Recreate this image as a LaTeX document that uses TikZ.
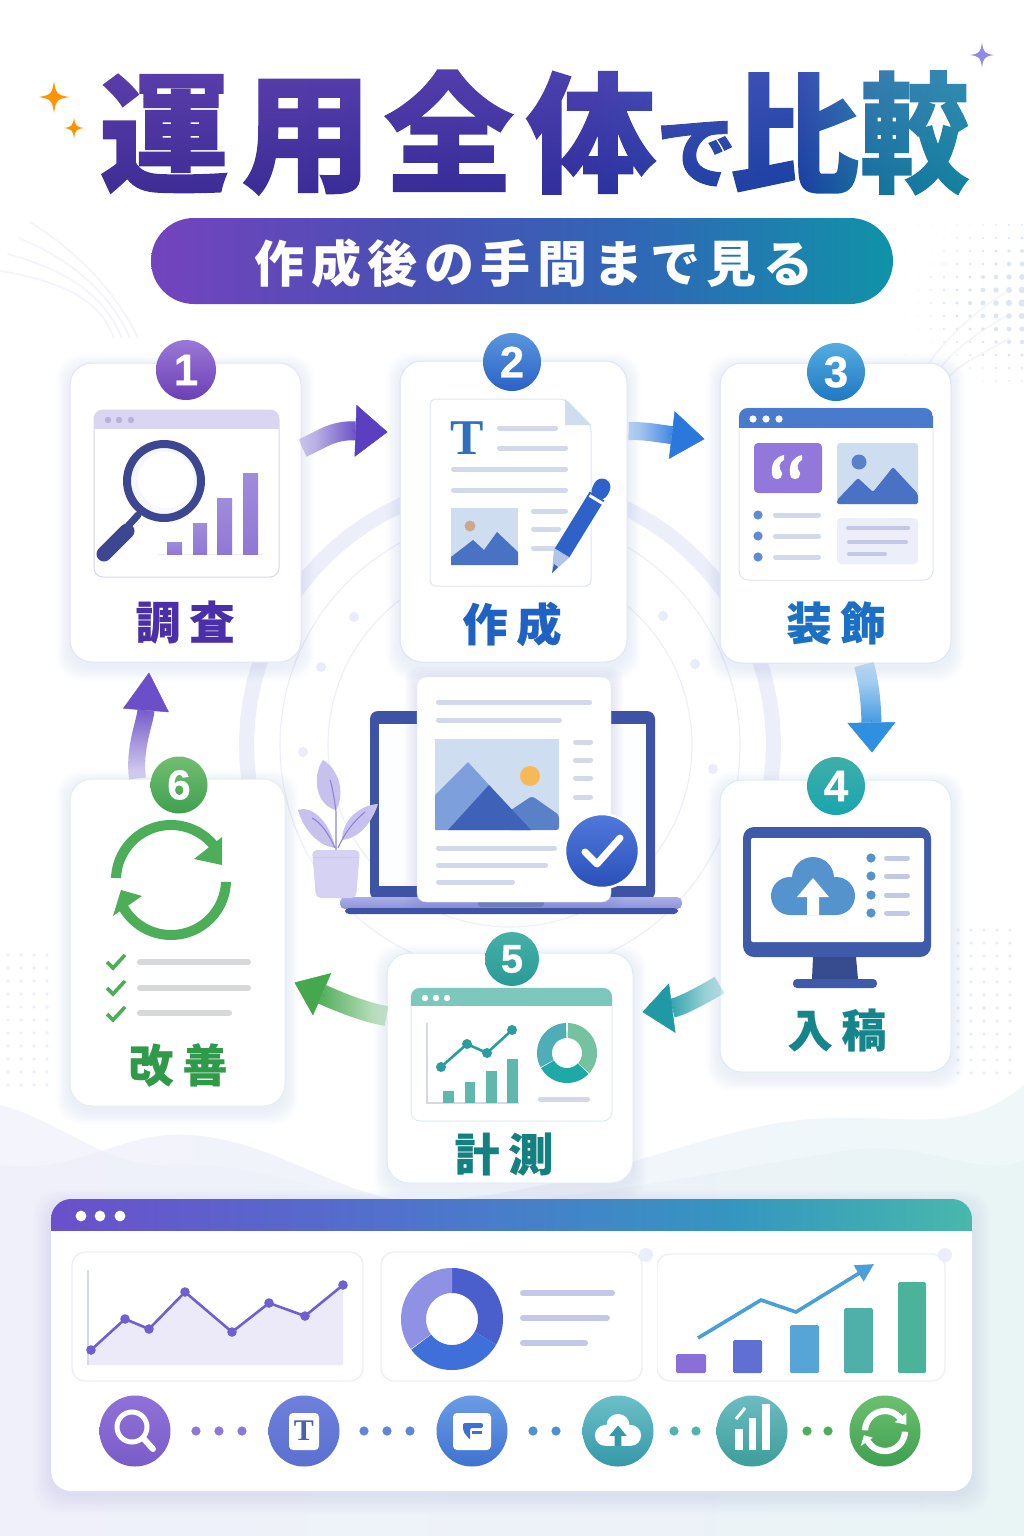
\documentclass[tikz,border=0pt]{standalone}
\usepackage{fontspec}
\usetikzlibrary{calc,arrows.meta,fadings}
\newfontfamily\jpfont{Noto Sans CJK JP}
\newfontfamily\jplabel[BoldFeatures={FakeBold=.5}]{Noto Sans CJK JP}
\newfontfamily\jpheavy[BoldFeatures={FakeBold=1.1}]{Noto Sans CJK JP}
\newfontfamily\numfont[BoldFeatures={FakeBold=.6}]{Liberation Sans}
\newfontfamily\serifT{Liberation Serif}

\definecolor{shadowtint}{HTML}{4A55B0}
\definecolor{ringc}{HTML}{ECEFFA}
\definecolor{faintc}{HTML}{F3F4FC}
\definecolor{linec}{HTML}{D3D8EA}
\definecolor{linedeep}{HTML}{C3C8E6}
\definecolor{graybar}{HTML}{D7D8DC}
\definecolor{skyc}{HTML}{CFDDF0}
\definecolor{navy}{HTML}{3D4690}
\definecolor{monitorc}{HTML}{3F5AA8}
\definecolor{laptopc}{HTML}{3F53A5}
\definecolor{leafc}{HTML}{C7C1EE}
\definecolor{veinc}{HTML}{8D84D8}
\definecolor{potc}{HTML}{D6D2F4}
\definecolor{greenc}{HTML}{4DAE5A}
\definecolor{tealc}{HTML}{2A9D9E}
\definecolor{mountc}{HTML}{4A72C4}
\definecolor{mlight}{HTML}{7D9FDC}
\definecolor{mmid}{HTML}{5A80C8}
\definecolor{mdark}{HTML}{3F62B8}
\definecolor{tblue}{HTML}{2F6FBE}
\definecolor{penc}{HTML}{2E62C8}
\definecolor{cloudc}{HTML}{5593CE}
\definecolor{barB}{HTML}{8F78D5}
\definecolor{winlav}{HTML}{DAD5F0}
\definecolor{winlavdot}{HTML}{B9B0E0}
\definecolor{winblue}{HTML}{4A7ACC}
\definecolor{winteal}{HTML}{7CC8BC}
\definecolor{quotec}{HTML}{9378DC}
\definecolor{bullet}{HTML}{5F8CD8}
\definecolor{tealbar}{HTML}{5FB8AC}
\definecolor{doughA}{HTML}{74C2A0}
\definecolor{doughB}{HTML}{1FA9A6}
\definecolor{doughC}{HTML}{4FADB8}
\definecolor{doughD}{HTML}{4A5ECC}
\definecolor{doughE}{HTML}{3F6FD8}
\definecolor{doughF}{HTML}{8F92E4}
\definecolor{areac}{HTML}{ECEAF9}
\definecolor{plotc}{HTML}{6F5FD0}

\definecolor{titleA}{HTML}{3E2B94}
\definecolor{titleB}{HTML}{352B96}
\definecolor{titleC}{HTML}{2C2F9C}
\definecolor{titleD}{HTML}{1F3FA2}
\definecolor{titleE}{HTML}{173FA0}
\definecolor{titleF}{HTML}{13709C}
\definecolor{titleG}{HTML}{10829E}
\definecolor{titletop}{HTML}{2A1838}
\pgfdeclarehorizontalshading{titlebase}{100bp}{
  color(0bp)=(titleA); color(25bp)=(titleA); color(45bp)=(titleB);
  color(53bp)=(titleC); color(59bp)=(titleD); color(65bp)=(titleE);
  color(69bp)=(titleF); color(75bp)=(titleG); color(100bp)=(titleG)}
\definecolor{pillA}{HTML}{7443BE}
\definecolor{pillB}{HTML}{4A4FB4}
\definecolor{pillC}{HTML}{2F68B6}
\definecolor{pillD}{HTML}{0F93A8}
\pgfdeclarehorizontalshading{pillshade}{100bp}{
  color(0bp)=(pillA); color(25bp)=(pillA); color(42bp)=(pillB);
  color(58bp)=(pillC); color(75bp)=(pillD); color(100bp)=(pillD)}
\definecolor{dashA}{HTML}{6A50CC}
\definecolor{dashB}{HTML}{4F74CC}
\definecolor{dashC}{HTML}{3596C0}
\definecolor{dashD}{HTML}{48B8AC}
\pgfdeclarehorizontalshading{dashshade}{100bp}{
  color(0bp)=(dashA); color(25bp)=(dashA); color(45bp)=(dashB);
  color(62bp)=(dashC); color(75bp)=(dashD); color(100bp)=(dashD)}

\tikzfading[name=tailfade,left color=transparent!85,middle color=transparent!0,right color=transparent!0]

\tikzset{
  cardbox/.style={rounded corners=22pt,fill=white,line width=1pt,inner sep=0pt},
  badge/.style={circle,inner sep=0pt,text=white,font=\numfont\bfseries\fontsize{44}{44}\selectfont},
  steplabel/.style={inner sep=0pt,font=\jplabel\bfseries\fontsize{45}{45}\selectfont\addfontfeature{LetterSpace=20}},
  plainwin/.style={fill=white,rounded corners=9pt,line width=1pt},
  subpanel/.style={draw=ringc,fill=white,line width=1.4pt,rounded corners=13pt},
  roundicon/.style={circle,minimum size=71pt,inner sep=0pt},
}

\newcommand{\rulebar}[5]{\draw[line width=#4pt,line cap=round,color=#5] ({#1+#4/2},#3) -- ({#2-#4/2},#3);}
% ring sector with mathematical angles, seen on a y-down canvas
\newcommand{\arcband}[7]{\fill[#7] plot[domain=#5:#6,samples=48] ({#1+#3*cos(\x)},{#2-#3*sin(\x)}) -- plot[domain=#6:#5,samples=48] ({#1+#4*cos(\x)},{#2-#4*sin(\x)}) -- cycle;}
% four pointed star
\newcommand{\sparkle}[4]{\fill[#4] (#1,#2-#3) .. controls (#1+#3*.12,#2-#3*.2) and (#1+#3*.2,#2-#3*.12) .. (#1+#3*.95,#2) .. controls (#1+#3*.2,#2+#3*.12) and (#1+#3*.12,#2+#3*.2) .. (#1,#2+#3) .. controls (#1-#3*.12,#2+#3*.2) and (#1-#3*.2,#2+#3*.12) .. (#1-#3*.95,#2) .. controls (#1-#3*.2,#2-#3*.12) and (#1-#3*.12,#2-#3*.2) .. cycle;}
% card with soft shadow
\newcommand{\softcard}[6]{%
  \foreach \g in {1,...,8}{\fill[shadowtint,opacity=.010,rounded corners=24pt] ({#2-\g*1.7},{#3-\g*1.7+5}) rectangle ({#4+\g*1.7},{#5+\g*1.7+5});}
  \node[cardbox,draw=#6,minimum width={(#4-#2)*1pt},minimum height={(#5-#3)*1pt}] (#1) at ({(#2+#4)/2},{(#3+#5)/2}) {};}
% title strip of a rounded window
\newcommand{\winbar}[7]{\begin{scope}\clip[rounded corners=#6pt] (#1,#2) rectangle (#3,#5);\fill[#7] (#1,#2) rectangle (#3,#4);\end{scope}}
% broad curved arrow whose tail fades out: from, ctrl, ctrl, tip, width, head length, head width, colour, fade angle
\newcommand{\fatarrow}[9]{%
  \draw[path fading=tailfade,fading angle=#9,color=#8,line width=#5pt] (#1) .. controls (#2) and (#3) .. ($(#4)!#6pt!(#3)$);
  \draw[color=#8,line width=.5pt,-{Triangle[length=#6pt,width=#7pt]}] ($(#4)!#6pt+3pt!(#3)$) -- (#4);}
% cloud with an upward arrow, local size about 84 wide
\newcommand{\cloudicon}[5]{\begin{scope}[shift={(#1,#2)},scale=#3]
  \fill[#4] (0,-10) circle[radius=21pt] (-23,8) circle[radius=19pt] (23,8) circle[radius=19pt] (-23,8) rectangle (23,27);
  \fill[#5] (0,-10) -- (16,9) -- (6,9) -- (6,27) -- (-6,27) -- (-6,9) -- (-16,9) -- cycle;
\end{scope}}
% pair of circular arrows, local radius 55
\newcommand{\syncicon}[5]{\begin{scope}[shift={(#1,#2)},scale=#3]
  \arcband{0}{0}{#4}{#5}{178}{33}{SYNCCOL}
  \arcband{0}{0}{#4}{#5}{-2}{-150}{SYNCCOL}
  \fill[SYNCCOL] (51,-43) -- (51,-15) -- (23,-21) -- cycle;
  \fill[SYNCCOL] (-58,36) -- (-50,10) -- (-29,16) -- cycle;
\end{scope}}
\newcommand{\quotemark}[2]{\fill[white] (#1,#2+6) circle[radius=5.2pt];
  \fill[white] (#1-5,#2+5) .. controls (#1-6,#2-6) and (#1-1,#2-11) .. (#1+7,#2-13) -- (#1+7,#2-8) .. controls (#1+2,#2-6) and (#1+1,#2) .. (#1+5,#2+5) -- cycle;}

\begin{document}
\begin{tikzpicture}[x=1pt,y=-1pt]
\useasboundingbox (0,0) rectangle (1024,1536);
\fill[white] (0,0) rectangle (1024,1536);

% soft waves along the lower edge
\definecolor{waveL}{HTML}{F4F5FC}\definecolor{waveR}{HTML}{EFF7F9}
\definecolor{deepL}{HTML}{F0EFFB}\definecolor{deepR}{HTML}{E8F4F5}
\shade[left color=waveL,right color=waveR] (0,1105)
  .. controls (60,1120) and (110,1170) .. (170,1165)
  .. controls (260,1160) and (320,1200) .. (420,1200)
  .. controls (560,1200) and (700,1130) .. (800,1120)
  .. controls (900,1110) and (960,1140) .. (1024,1085)
  -- (1024,1536) -- (0,1536) -- cycle;
\shade[left color=deepL,right color=deepR,opacity=.8] (0,1165)
  .. controls (80,1175) and (120,1130) .. (190,1135)
  .. controls (270,1140) and (330,1190) .. (400,1200)
  .. controls (520,1215) and (720,1170) .. (850,1150)
  .. controls (930,1140) and (980,1180) .. (1024,1160)
  -- (1024,1536) -- (0,1536) -- cycle;

% faint sweeping arcs, top left and top right
\foreach \d in {0,16,32,48}{
  \draw[faintc,line width=1.8pt] (30-\d*.7,222+\d) .. controls (75,250+\d*.7) and (115-\d*.3,290+\d*.3) .. (138-\d*.5,338);
}
\foreach \d in {0,24,48}{
  \draw[faintc,line width=1.6pt] (1010,290+\d) .. controls (975,310+\d) and (935,345+\d*.6) .. (905+\d*.8,400);
}
% dotted patches
\foreach \x in {905,918,...,1022}{\foreach \y in {225,238,...,392}{
  \pgfmathsetmacro\rr{max(.5,3.2*(1-abs(\y-300)/110)*(\x-895)/110)}
  \fill[color=skyc!70] (\x,\y) circle[radius=\rr pt];}}
\foreach \x in {8,21,34,47}{\foreach \y in {955,968,...,1090}{
  \fill[color=ringc] (\x,\y) circle[radius=1.9pt];}}
\foreach \x in {958,971,...,1022}{\foreach \y in {930,943,...,1075}{
  \fill[color=skyc!50] (\x,\y) circle[radius=1.8pt];}}

% concentric rings behind the cycle
\arcband{510}{745}{271}{256}{-12}{192}{ringc}
\foreach \r in {230,182}{\draw[ringc,line width=1.1pt] (510,745) circle[radius=\r pt];}
\foreach \px/\py in {354/617,321/667,303/752,663/616,695/664,713/769}{\fill[color=ringc!90!skyc] (\px,\py) circle[radius=5pt];}

% title, painted by screening gradients over black letters
\node[anchor=base west,inner sep=0pt,text=black,font=\jpheavy\bfseries\fontsize{130}{130}\selectfont\addfontfeature{LetterSpace=9.5}] (title) at (99,182) {運用全体{\fontsize{80}{80}\selectfont で}\hspace{-7pt}比\hspace{1pt}\scalebox{.84}[1]{較}};
\begin{scope}[blend mode=screen]
  \shade[shading=titlebase] (92,55) rectangle (978,200);
  \shade[top color=titletop,bottom color=black] (92,55) rectangle (978,200);
\end{scope}
\sparkle{54}{97}{16}{orange!85!yellow}
\sparkle{74}{128}{10.5}{orange!85!yellow}
\definecolor{starv}{HTML}{8F8BE6}
\sparkle{982}{55}{12.5}{starv}

% subtitle pill
\node[shading=pillshade,rounded corners=43pt,minimum width=742pt,minimum height=86pt,inner sep=0pt] (pill) at (522,261) {};
\node[inner sep=0pt,text=white,font=\jpfont\bfseries\fontsize{50}{50}\selectfont\addfontfeature{LetterSpace=13}] (pilltext) at (534,263) {作成後の手間まで見る};

% cards
\definecolor{edgeA}{HTML}{E6E3F6}\definecolor{edgeB}{HTML}{DDE6F6}\definecolor{edgeC}{HTML}{DCEDF0}\definecolor{edgeD}{HTML}{E4EFE6}
\softcard{c1}{70}{363}{301}{662}{edgeA}
\softcard{c2}{400}{361}{627}{662}{edgeB}
\softcard{c3}{720}{363}{951}{663}{edgeB}
\softcard{c4}{720}{780}{951}{1072}{edgeC}
\softcard{c6}{70}{779}{285}{1106}{edgeD}

% cycle arrows
\definecolor{arA}{HTML}{5A3FC0}\definecolor{arB}{HTML}{2A78DC}\definecolor{arC}{HTML}{2F8FE0}
\definecolor{arD}{HTML}{1F9AA5}\definecolor{arE}{HTML}{45A84F}\definecolor{arF}{HTML}{6B4FC8}
\coordinate (a12s) at ($(c1.east)+(1,-64.5)$);
\coordinate (a12t) at ($(c2.west)+(-12,-79.5)$);
\coordinate (a12u) at ($(a12s)+(20,-9)$);
\coordinate (a12v) at ($(a12t)+(-55,-2)$);
\fatarrow{a12s}{a12u}{a12v}{a12t}{19}{32}{52}{arA}{0}
\coordinate (a23s) at ($(c2.east)+(1,-80.5)$);
\coordinate (a23t) at ($(c3.west)+(-15,-74)$);
\coordinate (a23u) at ($(a23s)+(20,0)$);
\coordinate (a23v) at ($(a23t)+(-50,-6)$);
\fatarrow{a23s}{a23u}{a23v}{a23t}{18}{33}{48}{arB}{0}
\coordinate (a34s) at ($(c3.south)+(28.5,1)$);
\coordinate (a34t) at ($(c4.north)+(36.5,-27)$);
\coordinate (a34u) at ($(a34s)+(4,15)$);
\coordinate (a34v) at ($(a34t)+(-1,-55)$);
\fatarrow{a34s}{a34u}{a34v}{a34t}{20}{30}{48}{arC}{-90}
\softcard{c5}{387}{953}{633}{1183}{edgeC}
\coordinate (a45s) at ($(c4.west)+(0,59)$);
\coordinate (a45t) at ($(c5.east)+(9,-56)$);
\coordinate (a45u) at ($(a45s)+(-15,9)$);
\coordinate (a45v) at ($(a45t)+(38,-5)$);
\fatarrow{a45s}{a45u}{a45v}{a45t}{19}{30}{50}{arD}{180}
\coordinate (a56s) at ($(c5.west)+(0,-52)$);
\coordinate (a56t) at ($(c6.east)+(9,40)$);
\coordinate (a56u) at ($(a56s)+(-25,-4)$);
\coordinate (a56v) at ($(a56t)+(35,15)$);
\fatarrow{a56s}{a56u}{a56v}{a56t}{20}{30}{46}{arE}{180}
\coordinate (a61s) at ($(c6.north)+(-40,0)$);
\coordinate (a61t) at ($(c1.south)+(-36.5,10)$);
\coordinate (a61u) at ($(a61s)+(-4,-30)$);
\coordinate (a61v) at ($(a61t)+(-4,50)$);
\fatarrow{a61s}{a61u}{a61v}{a61t}{17}{38}{46}{arF}{90}

% badges
\definecolor{bgA}{HTML}{9B78D8}\definecolor{bhA}{HTML}{6B3FB5}
\definecolor{bgB}{HTML}{5A96DE}\definecolor{bhB}{HTML}{2A62C6}
\definecolor{bgC}{HTML}{55ACE0}\definecolor{bhC}{HTML}{1E78C4}
\definecolor{bgD}{HTML}{3FAFA8}\definecolor{bhD}{HTML}{18A5B0}
\definecolor{bgE}{HTML}{45B0A5}\definecolor{bhE}{HTML}{2A9A98}
\definecolor{bgF}{HTML}{72BE70}\definecolor{bhF}{HTML}{3FA050}
\node[badge,minimum size=60pt,top color=bgA,bottom color=bhA] (b1) at (186,370) {1};
\node[badge,minimum size=58pt,top color=bgB,bottom color=bhB] (b2) at (512,362) {2};
\node[badge,minimum size=58pt,top color=bgC,bottom color=bhC] (b3) at (836,372) {3};
\node[badge,minimum size=58pt,top color=bgD,bottom color=bhD] (b4) at (836,786) {4};
\node[badge,minimum size=54pt,font=\numfont\bfseries\fontsize{40}{40}\selectfont,top color=bgE,bottom color=bhE] (b5) at (512,959) {5};
\node[badge,minimum size=57pt,font=\numfont\bfseries\fontsize{42}{42}\selectfont,top color=bgF,bottom color=bhF] (b6) at (179,785) {6};

% step labels
\definecolor{lbA}{HTML}{4A2FA8}\definecolor{lbB}{HTML}{1F62C4}\definecolor{lbC}{HTML}{1B70C4}
\definecolor{lbD}{HTML}{14858A}\definecolor{lbE}{HTML}{14807F}\definecolor{lbF}{HTML}{2F9A4A}
\node[steplabel,text=lbA] (l1) at (185,622) {調査};
\node[steplabel,text=lbB] (l2) at (512,624) {作成};
\node[steplabel,text=lbC] (l3) at (836,623) {装飾};
\node[steplabel,text=lbD] (l4) at (837,1030) {入稿};
\node[steplabel,text=lbE] (l5) at (504,1154) {計測};
\node[steplabel,text=lbF] (l6) at (178,1065) {改善};

% ---- research icon: browser, magnifier, bars
\draw[plainwin,draw=winlav] (94,410) rectangle (279,577);
\winbar{94}{410}{279}{429}{577}{9}{winlav}
\foreach \px in {108,119,131}{\fill[color=winlavdot] (\px,420) circle[radius=3.2pt];}
\draw[color=ringc,line width=1pt] (157,554) -- (263,554);
\foreach \a/\b/\t in {167/182/542,193/207/523,217/232/498,243/258/473}{
  \shade[top color=barB!85!white,bottom color=barB] (\a,\t) rectangle (\b,554);}
\draw[color=navy,line width=7pt,line cap=round] (138,515) -- (128,526);
\draw[color=navy,line width=15pt,line cap=round] (127,531) -- (104,554);
\fill[color=ringc!50!white] (164,481) circle[radius=37pt];
\fill[white] (166,480) circle[radius=28pt];
\draw[color=navy,line width=8pt] (164,481) circle[radius=37pt];

% ---- writing icon: page, image, pencil
\draw[plainwin,draw=edgeB,rounded corners=6pt] (430,399) -- (565,399) -- (591,425) -- (591,586) -- (430,586) -- cycle;
\fill[color=skyc] (565,399) -- (591,425) -- (565,425) -- cycle;
\node[inner sep=0pt,text=tblue,font=\serifT\bfseries\fontsize{50}{50}\selectfont] (tglyph) at (467,438) {T};
\rulebar{497}{558}{428}{5}{linec}
\rulebar{497}{568}{448}{5}{linec}
\rulebar{451}{568}{469}{5}{linec}
\rulebar{451}{568}{490}{5}{linec}
\fill[color=skyc] (451,508) rectangle (518,565);
\fill[color=orange!35!skyc!90!black] (470,526) circle[radius=5.5pt];
\fill[color=mountc] (451,557) -- (473,540) -- (484,550) -- (497,532) -- (518,552) -- (518,565) -- (451,565) -- cycle;
\rulebar{531}{568}{511}{5}{linec}
\rulebar{531}{561}{529}{5}{linec}
\rulebar{531}{557}{548}{5}{linec}
\draw[color=penc,line width=17pt] (562,553) -- (597,496);
\draw[color=penc,line width=17pt,line cap=round] (600,491) -- (602,487);
\draw[color=white,line width=3pt] (589.5,495.5) -- (604.5,504.5);
\fill[color=mlight!60!white] (554,548) -- (569.5,557.5) -- (552,573) -- cycle;
\fill[color=mdark] (554,564) -- (558,567) -- (552,573) -- cycle;

% ---- layout icon: browser with blocks
\draw[plainwin,draw=edgeB] (739,408) rectangle (933,580);
\winbar{739}{408}{933}{428}{580}{9}{winblue}
\foreach \px in {753,766,779}{\fill[white] (\px,419) circle[radius=3.6pt];}
\fill[color=quotec,rounded corners=4pt] (754,443) rectangle (822,493);
\quotemark{777}{468}
\quotemark{795}{468}
\fill[color=skyc,rounded corners=3pt] (837,443) rectangle (918,504);
\fill[color=mmid] (859,462) circle[radius=7.5pt];
\fill[color=mountc,rounded corners=2pt] (837,500) -- (858,478) -- (873,492) -- (893,467) -- (918,494) -- (918,504) -- (837,504) -- cycle;
\foreach \py in {515,536,557}{\fill[color=bullet] (758,\py) circle[radius=4.6pt];\rulebar{773}{821}{\py}{5}{linec}}
\fill[color=ringc,rounded corners=4pt] (837,518) rectangle (918,564);
\rulebar{846}{910}{528}{4}{linedeep}
\rulebar{847}{908}{542}{4}{linedeep}
\rulebar{847}{887}{554}{4}{linedeep}

% ---- publish icon: monitor with cloud upload
\fill[color=monitorc,rounded corners=11pt] (743,827) rectangle (931,957);
\fill[white,rounded corners=2pt] (751,838) rectangle (924,942);
\fill[color=monitorc!85!black] (813,957) -- (856,957) -- (858,979) -- (812,979) -- cycle;
\fill[color=monitorc,rounded corners=4pt] (793,979) rectangle (877,988);
\cloudicon{813}{888}{1}{cloudc}{white}
\foreach \py in {858,876,895,913}{\fill[color=cloudc] (871,\py) circle[radius=4.6pt];\rulebar{884}{910}{\py}{5}{linedeep}}

% ---- measure icon: browser with charts
\draw[plainwin,draw=edgeC] (411,988) rectangle (612,1121);
\winbar{411}{988}{612}{1006}{1121}{9}{winteal}
\foreach \px in {425,436,447}{\fill[white] (\px,998) circle[radius=3.2pt];}
\draw[color=linec,line width=1.6pt] (427,1023) -- (427,1103) -- (519,1103);
\foreach \a/\b/\t in {443/454/1091,465/475/1082,486/497/1071,507/518/1059}{\fill[color=tealbar] (\a,\t) rectangle (\b,1103);}
\draw[color=tealc,line width=2.6pt] (441,1067) -- (467,1044) -- (487,1053) -- (512,1030);
\foreach \px/\py in {441/1067,467/1044,487/1053,512/1030}{\fill[color=tealc] (\px,\py) circle[radius=5pt];}
\arcband{567}{1053}{30}{15}{88}{-42}{doughA}
\arcband{567}{1053}{30}{15}{-44}{-150}{doughB}
\arcband{567}{1053}{30}{15}{-152}{-268}{doughC}
\rulebar{538}{590}{1099}{5}{linec}

% ---- improve icon: sync arrows and checklist
\colorlet{SYNCCOL}{greenc}
\syncicon{171}{880}{1}{60}{50}
\foreach \py in {962,988,1014}{
  \draw[color=greenc,line width=3.6pt] (107,\py) -- (113,\py+6) -- (125,\py-7);}
\rulebar{137}{251}{962}{6}{graybar}
\rulebar{137}{251}{988}{6}{graybar}
\rulebar{137}{232}{1013}{6}{graybar}

% ---- centre illustration: laptop, plant, page
\fill[color=laptopc,rounded corners=8pt] (370,711) rectangle (655,900);
\fill[color=white!92!ringc] (379,724) rectangle (646,886);
\definecolor{baseA}{HTML}{A9AEE6}\definecolor{baseB}{HTML}{8C93D8}
\shade[top color=baseA,bottom color=baseB,rounded corners=5pt] (340,897) rectangle (682,909);
\fill[color=laptopc,rounded corners=4pt] (345,908) rectangle (678,914);
\fill[color=leafc] (323,760) .. controls (312,775) and (315,805) .. (336,810) .. controls (345,795) and (340,770) .. (323,760) -- cycle;
\fill[color=leafc] (298,810) .. controls (310,805) and (330,820) .. (335,848) .. controls (315,845) and (302,825) .. (298,810) -- cycle;
\fill[color=leafc] (378,804) .. controls (360,805) and (342,820) .. (342,840) .. controls (360,838) and (372,822) .. (378,804) -- cycle;
\draw[color=veinc,line width=1.1pt] (336,850) -- (336,812) .. controls (334,795) and (331,782) .. (330,780);
\draw[color=veinc,line width=1.1pt] (335,848) .. controls (328,832) and (320,822) .. (312,818);
\draw[color=veinc,line width=1.1pt] (338,848) .. controls (345,832) and (355,820) .. (365,812);
\fill[color=potc,rounded corners=5pt] (312,850) -- (360,850) -- (356,898) -- (316,898) -- cycle;
\draw[color=potc!85!veinc,line width=1pt] (314,857) -- (358,857);
\foreach \g in {1,...,6}{\fill[shadowtint,opacity=.02,rounded corners=12pt] ({417-\g*2},{677-\g*2+2}) rectangle ({611+\g*2},{902+\g*2});}
\fill[color=laptopc!75!white,rounded corners=3pt] (478,899) rectangle (544,907);
\node[fill=white,draw=edgeB,rounded corners=9pt,minimum width=194pt,minimum height=225pt,inner sep=0pt] (page) at (514,789.5) {};
\rulebar{436}{592}{702}{5}{linec}
\rulebar{436}{562}{720}{5}{linec}
\fill[color=skyc] (435,739) rectangle (559,830);
\definecolor{sunc}{HTML}{F5B955}
\fill[color=sunc] (530,776) circle[radius=10pt];
\fill[color=mlight] (435,795) -- (468,762) -- (530,830) -- (435,830) -- cycle;
\fill[color=mmid,rounded corners=3pt] (508,830) -- (508,812) -- (532,796) -- (559,815) -- (559,830) -- cycle;
\fill[color=mdark] (448,830) -- (489,785) -- (531,830) -- cycle;
\rulebar{573}{593}{742}{5}{linec}
\rulebar{573}{593}{760}{5}{linec}
\rulebar{573}{593}{778}{5}{linec}
\rulebar{573}{593}{797}{5}{linec}
\rulebar{436}{557}{848}{5}{linec}
\rulebar{436}{548}{865}{5}{linec}
\rulebar{436}{515}{882}{5}{linec}
\definecolor{okA}{HTML}{5079DC}\definecolor{okB}{HTML}{2A50B8}
\node[circle,inner sep=0pt,minimum size=74pt,draw=white,line width=2.5pt,top color=okA,bottom color=okB] (okmark) at (602,851) {};
\draw[white,line width=7pt,line cap=round,line join=round] (585,852) -- (597,864) -- (620,838);

% ---- dashboard window along the bottom
\foreach \g in {1,...,9}{\fill[shadowtint,opacity=.012,rounded corners=24pt] ({51-\g*2},{1199-\g*1.5+5}) rectangle ({972+\g*2},{1491+\g*2+5});}
\node[fill=white,rounded corners=20pt,minimum width=921pt,minimum height=292pt,inner sep=0pt] (dash) at (511.5,1345) {};
\begin{scope}
  \clip[rounded corners=20pt] (51,1199) rectangle (972,1491);
  \shade[shading=dashshade] (51,1199) rectangle (972,1230);
\end{scope}
\foreach \px in {81,100,120}{\fill[white] (\px,1216) circle[radius=5.4pt];}
\draw[subpanel] (72,1252) rectangle (363,1381);
\draw[subpanel] (381,1252) rectangle (642,1381);
\draw[subpanel] (657,1254) rectangle (945,1381);
\fill[white] (650,1252) rectangle (657,1370);
\fill[color=ringc!95!skyc] (646,1255) circle[radius=7pt] (945,1255) circle[radius=7pt];

\fill[color=areac] (91,1350) -- (125,1319) -- (149,1329) -- (185,1292) -- (232,1332) -- (269,1303) -- (305,1316) -- (343,1285) -- (343,1365) -- (88,1365) -- cycle;
\draw[color=linec,line width=1.2pt] (88,1270) -- (88,1365);
\draw[color=plotc,line width=2.6pt] (91,1350) -- (125,1319) -- (149,1329) -- (185,1292) -- (232,1332) -- (269,1303) -- (305,1316) -- (343,1285);
\foreach \px/\py in {91/1350,125/1319,149/1329,185/1292,232/1332,269/1303,305/1316,343/1285}{\fill[color=plotc] (\px,\py) circle[radius=4.8pt];}

\arcband{452}{1319}{51}{26}{90}{-30}{doughD}
\arcband{452}{1319}{51}{26}{-30}{-143}{doughE}
\arcband{452}{1319}{51}{26}{-144}{-270}{doughF}
\rulebar{520}{615}{1293}{6}{linedeep}
\rulebar{520}{610}{1318}{6}{linedeep}
\rulebar{520}{588}{1343}{6}{linedeep}

\definecolor{gaA}{HTML}{8A6FD8}\definecolor{gaB}{HTML}{5F6FD4}\definecolor{gaC}{HTML}{57A5D6}
\definecolor{gaD}{HTML}{4FB0AA}\definecolor{gaE}{HTML}{4AB39A}\definecolor{gaF}{HTML}{4A9FD8}
\foreach \a/\b/\t/\cc in {676/706/1354/gaA,733/762/1340/gaB,790/819/1325/gaC,844/873/1308/gaD,898/926/1282/gaE}{
  \fill[color=\cc,rounded corners=1.5pt] (\a,\t) rectangle (\b,1373);}
\draw[color=gaF,line width=3.6pt,-{Triangle[length=18pt,width=18pt]}] (698,1338) -- (761,1300) -- (796,1312) -- (874,1264);

% icon row
\definecolor{icAa}{HTML}{8F72D8}\definecolor{icAb}{HTML}{7A5CC8}
\definecolor{icBa}{HTML}{6F80DC}\definecolor{icBb}{HTML}{5A70CF}
\definecolor{icCa}{HTML}{6A9CE6}\definecolor{icCb}{HTML}{3F72D0}
\definecolor{icDa}{HTML}{6CC0C8}\definecolor{icDb}{HTML}{3598A8}
\definecolor{icEa}{HTML}{6CBCC0}\definecolor{icEb}{HTML}{3C9E9A}
\definecolor{icFa}{HTML}{6CC070}\definecolor{icFb}{HTML}{3F9F50}
\node[roundicon,top color=icAa,bottom color=icAb] (r1) at (135,1431) {};
\node[roundicon,top color=icBa,bottom color=icBb] (r2) at (304,1431) {};
\node[roundicon,top color=icCa,bottom color=icCb] (r3) at (472,1431) {};
\node[roundicon,top color=icDa,bottom color=icDb] (r4) at (618,1431) {};
\node[roundicon,top color=icEa,bottom color=icEb] (r5) at (752,1431) {};
\node[roundicon,top color=icFa,bottom color=icFb] (r6) at (885,1431) {};
\draw[white,line width=5pt] (132,1427) circle[radius=15pt];
\draw[white,line width=6pt,line cap=round] (144,1439) -- (153,1449);
\fill[white,rounded corners=4pt] (289,1413) rectangle (319,1450);
\node[inner sep=0pt,text=icBb!85!black,font=\serifT\bfseries\fontsize{30}{30}\selectfont] (rT) at (304,1431) {T};
\fill[white,rounded corners=4pt] (453,1413) rectangle (491,1450);
\fill[color=icCb,rounded corners=2pt] (463,1431) -- (463,1423) -- (483,1423) -- (483,1428) -- (470,1428) -- (470,1440) -- cycle;
\fill[color=icCb] (472,1431) rectangle (482,1434);
\cloudicon{618}{1431}{.55}{white}{icDb}
\foreach \a/\b/\t in {735/743/1429,749/756/1418,762/770/1404}{\fill[white] (\a,\t) rectangle (\b,1450);}
\draw[white,line width=3pt] (736,1419) -- (745,1408);
\colorlet{SYNCCOL}{white}
\syncicon{885}{1431}{.42}{55}{40}

\definecolor{dtA}{HTML}{8C78D8}\definecolor{dtB}{HTML}{5F85DC}\definecolor{dtC}{HTML}{4A92D0}\definecolor{dtD}{HTML}{4FB3AE}
\foreach \px/\cc in {196/dtA,219/dtA,242/dtA,364/dtB,387/dtB,410/dtB,533/dtC,556/dtC,674/dtD,696/dtD,807/greenc,828/greenc}{
  \fill[color=\cc] (\px,1431) circle[radius=4.6pt];}
\end{tikzpicture}
\end{document}
